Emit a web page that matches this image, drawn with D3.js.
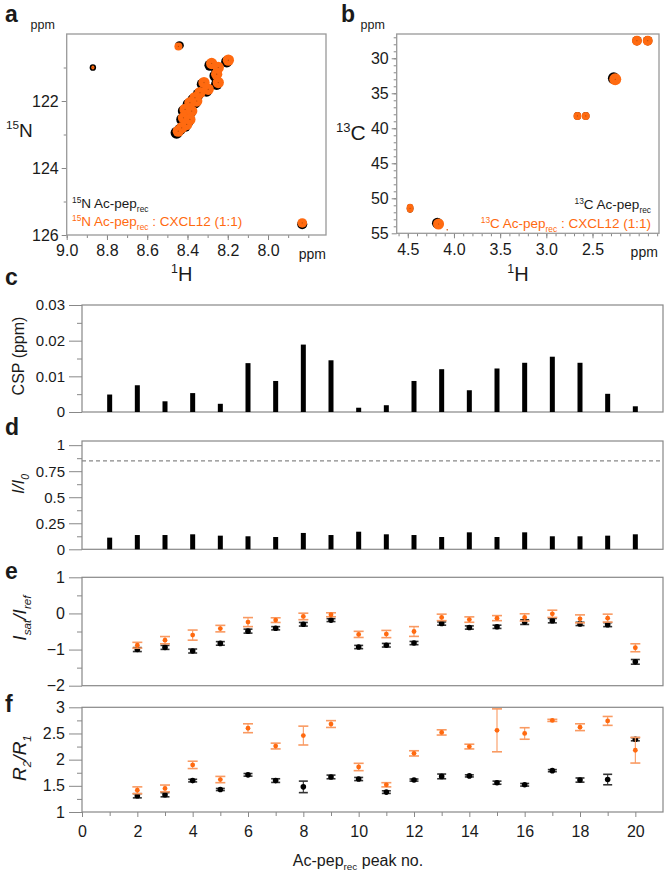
<!DOCTYPE html>
<html lang="en">
<head>
<meta charset="UTF-8">
<title>Ac-pep_rec NMR binding data</title>
<script src="https://d3js.org/d3.v7.min.js"></script>
<style>
  body { margin: 0; background: #fff; }
  svg text { font-family: "Liberation Sans", Arial, sans-serif; fill: #1a1a1a; }
</style>
</head>
<body>
<div id="chart"></div>
<script>
// ---- spectra (ppm) ----
// 1H-15N: [H, N]
const hnFree = [
  [8.87, 121.0], [8.44, 120.34], [7.83, 125.68],
  [8.205, 120.83], [8.288, 120.93], [8.255, 121.05], [8.263, 121.25], [8.255, 121.5],
  [8.326, 121.5], [8.305, 121.7], [8.346, 121.8], [8.371, 121.95], [8.396, 122.1],
  [8.362, 122.05], [8.42, 122.3], [8.387, 122.35], [8.428, 122.55], [8.396, 122.6],
  [8.437, 122.85], [8.412, 122.75], [8.454, 122.95]
];
const hnFreeWidth = [
  [0.016, 0.1], [0.022, 0.12], [0.025, 0.15],
  [0.028, 0.17], [0.028, 0.17], [0.028, 0.17], [0.028, 0.17], [0.028, 0.17],
  [0.028, 0.17], [0.028, 0.17], [0.028, 0.17], [0.028, 0.17], [0.028, 0.17],
  [0.028, 0.17], [0.028, 0.17], [0.028, 0.17], [0.028, 0.17], [0.028, 0.17],
  [0.028, 0.17], [0.028, 0.17], [0.03, 0.18]
];
const hnBound = [
  [8.87, 121.0], [8.445, 120.37], [7.83, 125.64],
  [8.197, 120.78], [8.28, 120.88], [8.247, 121.0], [8.255, 121.2], [8.247, 121.45],
  [8.318, 121.45], [8.297, 121.65], [8.338, 121.75], [8.363, 121.9], [8.388, 122.05],
  [8.354, 122.0], [8.412, 122.25], [8.379, 122.3], [8.42, 122.5], [8.388, 122.55],
  [8.429, 122.8], [8.404, 122.7], [8.446, 122.9]
];
const hnBoundWidth = [
  [0.008, 0.06], [0.02, 0.12], [0.024, 0.14],
  [0.028, 0.17], [0.028, 0.17], [0.028, 0.17], [0.028, 0.17], [0.028, 0.17],
  [0.028, 0.17], [0.028, 0.17], [0.028, 0.17], [0.028, 0.17], [0.028, 0.17],
  [0.028, 0.17], [0.028, 0.17], [0.028, 0.17], [0.028, 0.17], [0.028, 0.17],
  [0.028, 0.17], [0.028, 0.17], [0.028, 0.17]
];
// 1H-13C: [H, C]
const ccFree = [
  [2.019, 27.49], [1.902, 27.49], [2.27, 32.85], [2.663, 38.24], [2.573, 38.24],
  [4.475, 51.43], [4.18, 53.55]
];
const ccFreeWidth = [
  [0.05, 0.68], [0.05, 0.68], [0.063, 0.85], [0.04, 0.55], [0.04, 0.55],
  [0.036, 0.62], [0.058, 0.78]
];
const ccBound = [
  [2.019, 27.49], [1.902, 27.49], [2.254, 33.0], [2.663, 38.24], [2.573, 38.24],
  [4.475, 51.43], [4.167, 53.67], [4.073, 54.5]
];
const ccBoundWidth = [
  [0.054, 0.71], [0.054, 0.71], [0.065, 0.86], [0.043, 0.57], [0.043, 0.57],
  [0.038, 0.64], [0.06, 0.79], [0.008, 0.1]
];

// ---- per-peak data ----
const peakNo = [1, 2, 3, 4, 5, 6, 7, 8, 9, 10, 11, 12, 13, 14, 15, 16, 17, 18, 19, 20];
const csp = [0.0049, 0.0075, 0.003, 0.0053, 0.0023, 0.0137, 0.0087, 0.0189, 0.0145, 0.0012,
             0.0019, 0.0087, 0.012, 0.0061, 0.0122, 0.0138, 0.0155, 0.0138, 0.0051, 0.0016];
const intRatio = [0.112, 0.137, 0.137, 0.144, 0.131, 0.125, 0.118, 0.157, 0.137, 0.169,
                  0.144, 0.137, 0.118, 0.163, 0.118, 0.163, 0.125, 0.125, 0.131, 0.144];
const intThreshold = 0.85;

const relaxPeaks = [2, 3, 4, 5, 6, 7, 8, 9, 10, 11, 12, 13, 14, 15, 16, 17, 18, 19, 20];
const satFree = [-1.0, -0.94, -1.04, -0.83, -0.49, -0.41, -0.30, -0.185, -0.93, -0.88,
                 -0.82, -0.28, -0.39, -0.37, -0.24, -0.20, -0.29, -0.31, -1.34];
const satFreeErr = [0.055, 0.055, 0.055, 0.05, 0.055, 0.045, 0.05, 0.04, 0.045, 0.05,
                    0.045, 0.045, 0.045, 0.045, 0.065, 0.06, 0.045, 0.055, 0.065];
const satBound = [-0.88, -0.74, -0.60, -0.42, -0.24, -0.185, -0.083, -0.037, -0.58, -0.57,
                  -0.50, -0.11, -0.17, -0.13, -0.11, -0.01, -0.15, -0.13, -0.95];
const satBoundErr = [0.08, 0.10, 0.14, 0.09, 0.125, 0.065, 0.09, 0.055, 0.085, 0.10,
                     0.135, 0.09, 0.075, 0.07, 0.10, 0.10, 0.11, 0.11, 0.11];
const r2r1Free = [1.31, 1.33, 1.60, 1.43, 1.71, 1.60, 1.48, 1.67, 1.63, 1.38,
                  1.61, 1.68, 1.69, 1.56, 1.52, 1.79, 1.61, 1.62, 2.39];
const r2r1FreeErr = [0.04, 0.04, 0.025, 0.02, 0.025, 0.035, 0.11, 0.035, 0.03, 0.025,
                     0.02, 0.045, 0.02, 0.03, 0.025, 0.02, 0.04, 0.10, 0.03];
const r2r1Bound = [1.415, 1.45, 1.90, 1.62, 2.60, 2.26, 2.46, 2.68, 1.86, 1.52,
                   2.12, 2.52, 2.25, 2.56, 2.50, 2.75, 2.62, 2.74, 2.18];
const r2r1BoundErr = [0.065, 0.065, 0.07, 0.06, 0.085, 0.055, 0.18, 0.065, 0.07, 0.04,
                      0.05, 0.05, 0.045, 0.41, 0.11, 0.02, 0.065, 0.085, 0.245];

const orange = "#ff6a10";
const orangeLight = "#f99a62";
const frameColor = "#888";

const svg = d3.select("#chart").append("svg")
  .attr("width", 664).attr("height", 874);

// text with super/subscripts
function rich(sel, parts, size) {
  let shift = 0;
  parts.forEach(([str, kind]) => {
    let target = 0, fs = size;
    if (kind === "sup") { target = -size * 0.4; fs = size * 0.62; }
    if (kind === "sub") { target = size * 0.28; fs = size * 0.62; }
    sel.append("tspan").text(str).attr("font-size", fs).attr("dy", target - shift);
    shift = target;
  });
  return sel;
}

function label(x, y, txt) {
  svg.append("text").attr("x", x).attr("y", y)
    .attr("font-size", 23).attr("font-weight", "bold").text(txt);
}

function styleAxis(g, fs) {
  g.select(".domain").remove();
  g.selectAll(".tick line").attr("stroke", frameColor);
  g.selectAll(".tick text").attr("font-size", fs).style("fill", "#1a1a1a");
}

// ================= 2D spectra =================
function spectrum(o) {
  const g = svg.append("g");
  const [x0, x1] = o.xRange, [y0, y1] = o.yRange;
  const clipId = "clip" + o.id;
  svg.append("clipPath").attr("id", clipId).append("rect")
    .attr("x", x0).attr("y", y0).attr("width", x1 - x0).attr("height", y1 - y0);

  // bottom axis
  const gx = g.append("g").attr("transform", `translate(0,${y1})`);
  gx.call(d3.axisBottom(o.x).tickValues(o.xMinor).tickSize(3).tickFormat(""));
  styleAxis(gx, 16);
  const gx2 = g.append("g").attr("transform", `translate(0,${y1})`);
  gx2.call(d3.axisBottom(o.x).tickValues(o.xMajor).tickSize(5).tickPadding(5).tickFormat(d3.format(".1f")));
  styleAxis(gx2, 16);
  g.append("text").attr("x", o.x(o.ppmAt)).attr("y", y1 + 24)
    .attr("text-anchor", "middle").attr("font-size", 14).text("ppm");

  // left axis
  const gy = g.append("g").attr("transform", `translate(${x0},0)`);
  gy.call(d3.axisLeft(o.y).tickValues(o.yMinor).tickSize(3).tickFormat(""));
  styleAxis(gy, 16);
  const gy2 = g.append("g").attr("transform", `translate(${x0},0)`);
  gy2.call(d3.axisLeft(o.y).tickValues(o.yMajor).tickSize(5).tickPadding(3).tickFormat(d3.format("d")));
  styleAxis(gy2, 16);
  g.append("text").attr("x", x0 - 24).attr("y", y0 - 5)
    .attr("text-anchor", "middle").attr("font-size", 12.5).text("ppm");

  // peaks: reference (black) under complex (orange)
  const pk = g.append("g").attr("clip-path", `url(#${clipId})`);
  const drawPeaks = (pts, widths, color) => {
    pk.selectAll(null).data(pts).join("ellipse")
      .attr("cx", d => o.x(d[0])).attr("cy", d => o.y(d[1]))
      .attr("rx", (d, i) => Math.abs(o.x(d[0] + widths[i][0]) - o.x(d[0])))
      .attr("ry", (d, i) => Math.abs(o.y(d[1] + widths[i][1]) - o.y(d[1])))
      .attr("fill", color);
  };
  drawPeaks(o.free, o.freeW, "#000");
  drawPeaks(o.bound, o.boundW, orange);
  pk.selectAll(null).data(o.bound).join("circle")
    .attr("cx", d => o.x(d[0])).attr("cy", d => o.y(d[1])).attr("r", 0.6)
    .attr("fill", "#8a3a00").attr("opacity", 0.6);

  g.append("rect").attr("x", x0).attr("y", y0).attr("width", x1 - x0).attr("height", y1 - y0)
    .attr("fill", "none").attr("stroke", "#999").attr("stroke-width", 1.3);
  return g;
}

const xA = d3.scaleLinear().domain([9.0, 7.712]).range([66.7, 326]);
const yA = d3.scaleLinear().domain([120, 126]).range([34, 235]);
spectrum({
  id: "a", x: xA, y: yA, xRange: [66.7, 326], yRange: [34, 235],
  xMajor: [9.0, 8.8, 8.6, 8.4, 8.2, 8.0], xMinor: d3.range(7.8, 9.01, 0.1),
  yMajor: [122, 124, 126], yMinor: [121, 123, 125], ppmAt: 7.78,
  free: hnFree, freeW: hnFreeWidth, bound: hnBound, boundW: hnBoundWidth
});

const xB = d3.scaleLinear().domain([4.62, 1.78]).range([396.7, 659]);
const yB = d3.scaleLinear().domain([26.53, 55]).range([34, 233.3]);
spectrum({
  id: "b", x: xB, y: yB, xRange: [396.7, 659], yRange: [34, 233.3],
  xMajor: [4.5, 4.0, 3.5, 3.0, 2.5], xMinor: d3.range(1.8, 4.61, 0.1),
  yMajor: [30, 35, 40, 45, 50, 55], yMinor: d3.range(27, 55, 1), ppmAt: 1.94,
  free: ccFree, freeW: ccFreeWidth, bound: ccBound, boundW: ccBoundWidth
});

// axis titles / legends for spectra
rich(svg.append("text").attr("x", 181.7).attr("y", 281).attr("text-anchor", "middle"),
  [["1", "sup"], ["H", ""]], 20);
rich(svg.append("text").attr("x", 518).attr("y", 281).attr("text-anchor", "middle"),
  [["1", "sup"], ["H", ""]], 20);
rich(svg.append("text").attr("x", 6).attr("y", 137), [["15", "sup"], ["N", ""]], 19);
rich(svg.append("text").attr("x", 336).attr("y", 140), [["13", "sup"], ["C", ""]], 21);

rich(svg.append("text").attr("x", 72).attr("y", 208),
  [["15", "sup"], ["N Ac-pep", ""], ["rec", "sub"]], 13.5);
rich(svg.append("text").attr("x", 72).attr("y", 226).style("fill", orange),
  [["15", "sup"], ["N Ac-pep", ""], ["rec", "sub"], [" : CXCL12 (1:1)", ""]], 13.5)
  .selectAll("tspan").style("fill", orange);
rich(svg.append("text").attr("x", 651).attr("y", 209).attr("text-anchor", "end"),
  [["13", "sup"], ["C Ac-pep", ""], ["rec", "sub"]], 13.5);
rich(svg.append("text").attr("x", 651).attr("y", 228).attr("text-anchor", "end"),
  [["13", "sup"], ["C Ac-pep", ""], ["rec", "sub"], [" : CXCL12 (1:1)", ""]], 13.5)
  .selectAll("tspan").style("fill", orange);

label(5, 22, "a");
label(341, 22, "b");

// ================= per-peak panels =================
const plotL = 82, plotR = 663;
const x = d3.scaleLinear().domain([0, 21]).range([plotL, plotR]);

function panel(top, bottom, domain, major, minor, fmt, fs) {
  const y = d3.scaleLinear().domain(domain).range([bottom, top]);
  const g = svg.append("g");
  const ga = g.append("g").attr("transform", `translate(${plotL},0)`);
  ga.call(d3.axisLeft(y).tickValues(minor).tickSize(5).tickFormat(""));
  styleAxis(ga, fs);
  const gb = g.append("g").attr("transform", `translate(${plotL},0)`);
  gb.call(d3.axisLeft(y).tickValues(major).tickSize(13).tickPadding(4).tickFormat(fmt));
  styleAxis(gb, fs);
  g.append("rect").attr("x", plotL).attr("y", top).attr("width", plotR - plotL)
    .attr("height", bottom - top).attr("fill", "none").attr("stroke", frameColor).attr("stroke-width", 1.2);
  return { g, y };
}

function yTitle(cx, cy, parts, size, italic) {
  const t = svg.append("text").attr("transform", `translate(${cx},${cy}) rotate(-90)`)
    .attr("text-anchor", "middle").attr("font-style", italic ? "italic" : "normal");
  rich(t, parts, size);
}

// c: CSP
const pc = panel(305, 412, [0, 0.03], [0, 0.01, 0.02, 0.03], [0.005, 0.015, 0.025],
  d => d === 0 ? "0" : d3.format(".2f")(d), 15);
pc.g.selectAll(null).data(peakNo).join("rect")
  .attr("x", d => x(d) - 2.5).attr("width", 5)
  .attr("y", (d, i) => pc.y(csp[i])).attr("height", (d, i) => pc.y(0) - pc.y(csp[i]))
  .attr("fill", "#000");
yTitle(24, 356, [["CSP (ppm)", ""]], 16, false);
label(5, 285, "c");

// d: I/I0
const pd = panel(441, 549.3, [0, 1.04], [0, 0.25, 0.5, 0.75, 1], [0.125, 0.375, 0.625, 0.875],
  d => d3.format("~g")(d), 15);
pd.g.append("line").attr("x1", plotL).attr("x2", plotR)
  .attr("y1", pd.y(intThreshold)).attr("y2", pd.y(intThreshold))
  .attr("stroke", "#888").attr("stroke-width", 1.2).attr("stroke-dasharray", "4,3");
pd.g.selectAll(null).data(peakNo).join("rect")
  .attr("x", d => x(d) - 2.5).attr("width", 5)
  .attr("y", (d, i) => pd.y(intRatio[i])).attr("height", (d, i) => pd.y(0) - pd.y(intRatio[i]))
  .attr("fill", "#000");
yTitle(24, 484, [["I/I", ""], ["0", "sub"]], 17, true);
label(5, 435, "d");

function errorPoints(p, ys, errs, color, barColor, r, capW) {
  const gg = p.g.append("g");
  relaxPeaks.forEach((n, i) => {
    const cx = x(n), y0 = p.y(ys[i] - errs[i]), y1 = p.y(ys[i] + errs[i]);
    gg.append("line").attr("x1", cx).attr("x2", cx).attr("y1", y0).attr("y2", y1)
      .attr("stroke", barColor).attr("stroke-width", 1.1);
    [y0, y1].forEach(yy => gg.append("line").attr("x1", cx - capW).attr("x2", cx + capW)
      .attr("y1", yy).attr("y2", yy).attr("stroke", barColor).attr("stroke-width", 1.6));
    gg.append("circle").attr("cx", cx).attr("cy", p.y(ys[i])).attr("r", r).attr("fill", color);
  });
}

// e: Isat/Iref
const pe = panel(577.3, 685.7, [-2, 1], [-2, -1, 0, 1], [-1.5, -0.5, 0.5], d3.format("d"), 16);
errorPoints(pe, satFree, satFreeErr, "#000", "#333", 2.8, 4.5);
errorPoints(pe, satBound, satBoundErr, orange, orangeLight, 2.4, 5);
yTitle(26, 618, [["I", ""], ["sat", "sub"], ["/I", ""], ["ref", "sub"]], 19, true);
label(5, 579, "e");

// f: R2/R1
const pf = panel(707.3, 812, [1, 3], [1, 1.5, 2, 2.5, 3], [1.25, 1.75, 2.25, 2.75], d3.format("~g"), 16);
errorPoints(pf, r2r1Free, r2r1FreeErr, "#000", "#333", 2.8, 4.5);
errorPoints(pf, r2r1Bound, r2r1BoundErr, orange, orangeLight, 2.4, 5);
yTitle(26, 758, [["R", ""], ["2", "sub"], ["/R", ""], ["1", "sub"]], 19, true);
label(5, 712, "f");

const gxm = svg.append("g").attr("transform", `translate(0,812)`);
gxm.call(d3.axisBottom(x).tickValues(d3.range(1, 21, 2)).tickSize(4).tickFormat(""));
styleAxis(gxm, 16);
const gxM = svg.append("g").attr("transform", `translate(0,812)`);
gxM.call(d3.axisBottom(x).tickValues(d3.range(0, 21, 2)).tickSize(5).tickPadding(9).tickFormat(d3.format("d")));
styleAxis(gxM, 16);

rich(svg.append("text").attr("x", 358).attr("y", 866).attr("text-anchor", "middle"),
  [["Ac-pep", ""], ["rec", "sub"], [" peak no.", ""]], 16);
</script>
</body>
</html>
